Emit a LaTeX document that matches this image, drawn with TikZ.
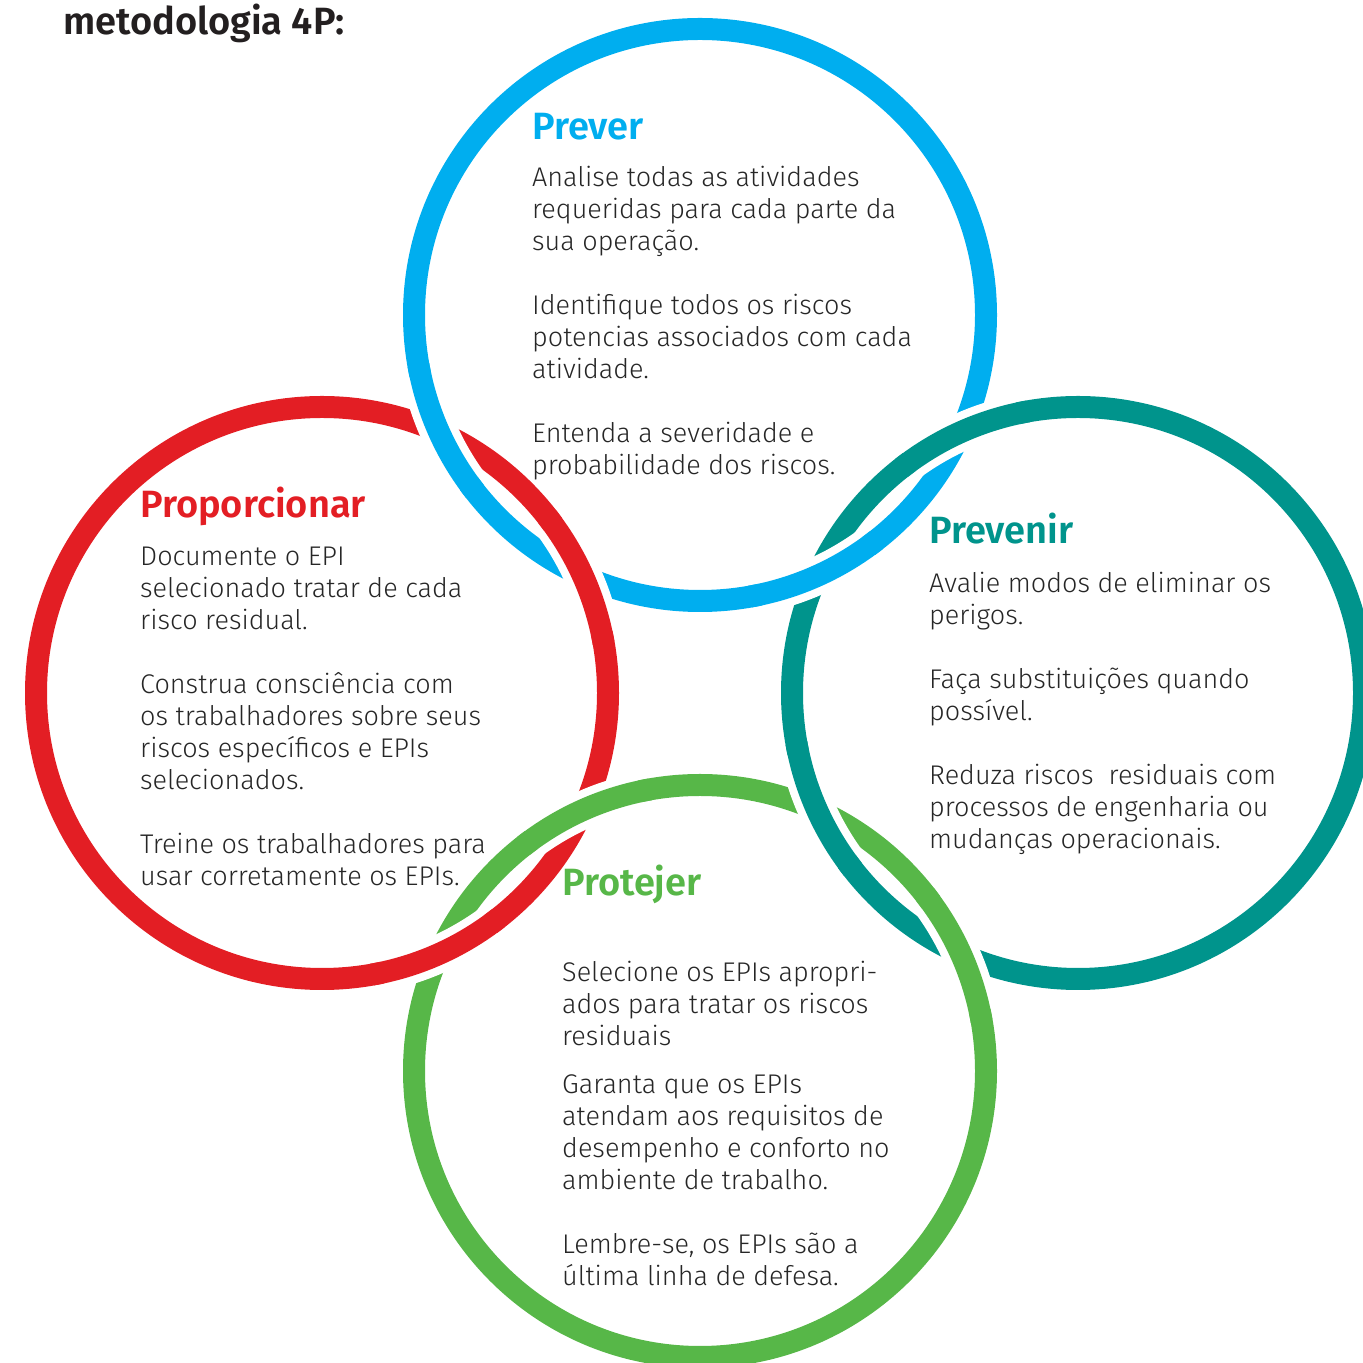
\documentclass[tikz,border=0pt]{standalone}
\usepackage{fontspec}
\setmainfont{Fira Sans}[UprightFont={* Light}, BoldFont={* SemiBold}]
\usepackage{tikz}
\usepackage{xcolor}
\definecolor{prevercol}{RGB}{0,174,239}
\definecolor{propcol}{RGB}{227,30,36}
\definecolor{prevcol}{RGB}{0,148,140}
\definecolor{protcol}{RGB}{87,183,72}
\definecolor{ink}{RGB}{38,38,38}
\definecolor{titleink}{RGB}{35,31,32}

\begin{document}
\begin{tikzpicture}[x=1pt, y=1pt,
    ring/.style={draw=#1, line width=22pt},
    gap/.style={draw=white, line width=38pt},
    head/.style={anchor=base west, inner sep=0pt, text=#1, font=\fontsize{38}{40}\selectfont\bfseries},
    body/.style={anchor=base west, inner sep=0pt, align=left, text=ink, font=\fontsize{27}{32}\selectfont}]
            \useasboundingbox (0,0) rectangle (1363,1363);

            % Title
            \node[anchor=base west, inner sep=0pt, text=titleink, font=\fontsize{38}{40}\selectfont\bfseries]
                (title) at (63,1328) {metodologia 4P:};

            % Ring centres
            \coordinate (prever) at (700,1048);
            \coordinate (proporcionar) at (322,670);
            \coordinate (prevenir) at (1078,670);
            \coordinate (protejer) at (700,292);

            % Rings
            \draw[ring=prevercol] (prever) circle[radius=286];
            \draw[ring=propcol] (proporcionar) circle[radius=286];
            \draw[ring=prevcol] (prevenir) circle[radius=286];
            \draw[ring=protcol] (protejer) circle[radius=286];

            % Crossings: Prever on top
            \draw[gap] ([shift={(192.1:286)}]prever) arc[start angle=192.1, end angle=216.1, radius=286];
            \draw[ring=prevercol] ([shift={(190.1:286)}]prever) arc[start angle=190.1, end angle=218.1, radius=286];
            \draw[gap] ([shift={(282.1:286)}]prever) arc[start angle=282.1, end angle=306.1, radius=286];
            \draw[ring=prevercol] ([shift={(280.1:286)}]prever) arc[start angle=280.1, end angle=308.1, radius=286];

            % Crossings: Proporcionar on top
            \draw[gap] ([shift={(12.1:286)}]proporcionar) arc[start angle=12.1, end angle=36.1, radius=286];
            \draw[ring=propcol] ([shift={(10.1:286)}]proporcionar) arc[start angle=10.1, end angle=38.1, radius=286];
            \draw[gap] ([shift={(282.1:286)}]proporcionar) arc[start angle=282.1, end angle=306.1, radius=286];
            \draw[ring=propcol] ([shift={(280.1:286)}]proporcionar) arc[start angle=280.1, end angle=308.1, radius=286];

            % Crossings: Prevenir on top
            \draw[gap] ([shift={(102.1:286)}]prevenir) arc[start angle=102.1, end angle=126.1, radius=286];
            \draw[ring=prevcol] ([shift={(100.1:286)}]prevenir) arc[start angle=100.1, end angle=128.1, radius=286];
            \draw[gap] ([shift={(192.1:286)}]prevenir) arc[start angle=192.1, end angle=216.1, radius=286];
            \draw[ring=prevcol] ([shift={(190.1:286)}]prevenir) arc[start angle=190.1, end angle=218.1, radius=286];

            % Crossings: Protejer on top
            \draw[gap] ([shift={(12.1:286)}]protejer) arc[start angle=12.1, end angle=36.1, radius=286];
            \draw[ring=protcol] ([shift={(10.1:286)}]protejer) arc[start angle=10.1, end angle=38.1, radius=286];
            \draw[gap] ([shift={(102.1:286)}]protejer) arc[start angle=102.1, end angle=126.1, radius=286];
            \draw[ring=protcol] ([shift={(100.1:286)}]protejer) arc[start angle=100.1, end angle=128.1, radius=286];

            % Prever (nodes sit on the baseline of their last line)
            \node[head=prevercol] (preverhead) at (532,1223) {Prever};
            \node[body] (preverA) at (532,1112) {Analise todas as atividades\\requeridas para cada parte da\\sua operação.};
            \node[body] (preverB) at (532,984) {Identifique todos os riscos\\potencias associados com cada\\atividade.};
            \node[body] (preverC) at (532,888) {Entenda a severidade e\\probabilidade dos riscos.};

            % Proporcionar
            \node[head=propcol] (prophead) at (140,845) {Proporcionar};
            \node[body] (propA) at (140,733) {Documente o EPI\\selecionado tratar de cada\\risco residual.};
            \node[body] (propB) at (140,573) {Construa consciência com\\os trabalhadores sobre seus\\riscos específicos e EPIs\\selecionados.};
            \node[body] (propC) at (140,477) {Treine os trabalhadores para\\usar corretamente os EPIs.};

            % Prevenir
            \node[head=prevcol] (prevhead) at (929,819) {Prevenir};
            \node[body] (prevA) at (929,738) {Avalie modos de eliminar os\\perigos.};
            \node[body] (prevB) at (929,642) {Faça substituições quando\\possível.};
            \node[body] (prevC) at (929,514) {Reduza riscos \ residuais com\\processos de engenharia ou\\mudanças operacionais.};

            % Protejer
            \node[head=protcol] (prothead) at (562,467) {Protejer};
            \node[body] (protA) at (562,317) {Selecione os EPIs apropri-\\ados para tratar os riscos\\residuais};
            \node[body] (protB) at (562,173) {Garanta que os EPIs\\atendam aos requisitos de\\desempenho e conforto no\\ambiente de trabalho.};
            \node[body] (protC) at (562,77) {Lembre-se, os EPIs são a\\última linha de defesa.};
\end{tikzpicture}
\end{document}
